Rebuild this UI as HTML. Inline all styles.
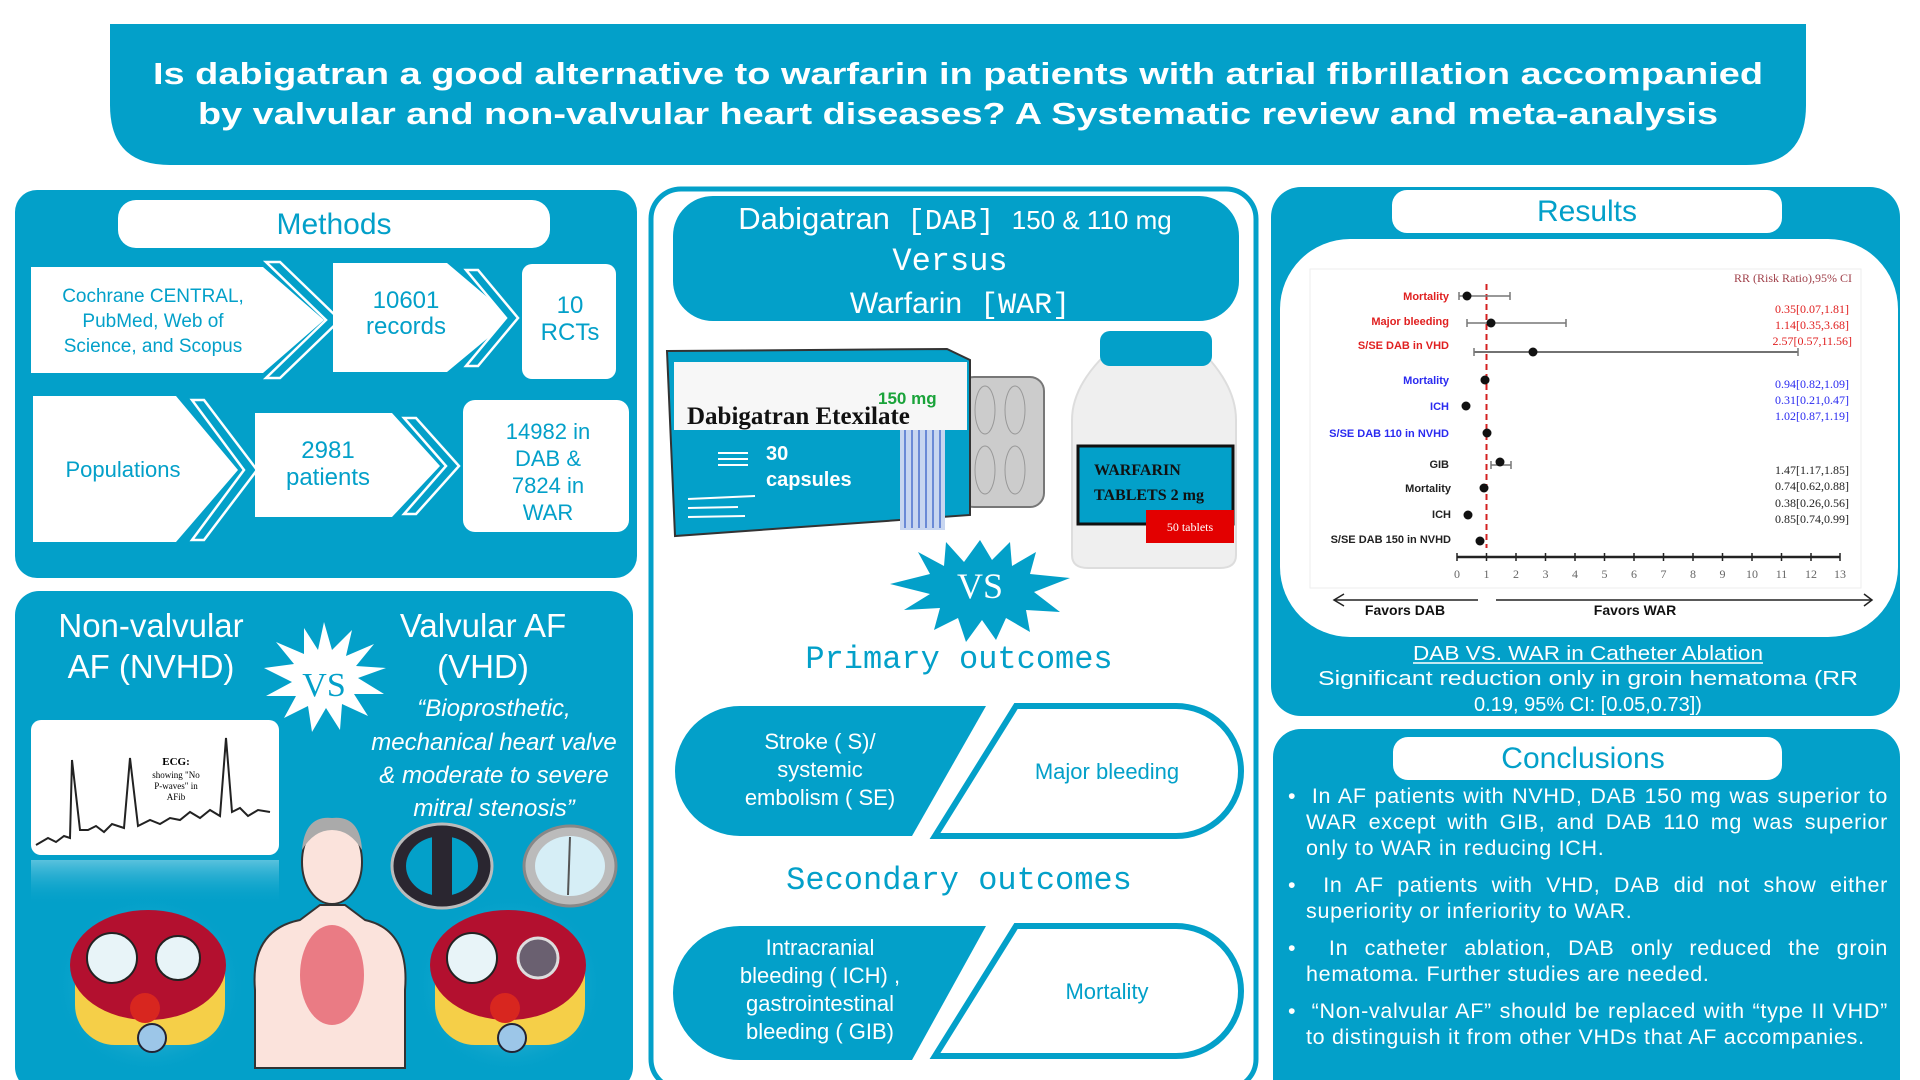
<!DOCTYPE html>
<html><head><meta charset="utf-8"><style>
html,body{margin:0;padding:0;background:#fff;}
#wrap{position:relative;width:1920px;height:1080px;overflow:hidden;font-family:"Liberation Sans",sans-serif;}
svg{position:absolute;left:0;top:0;}
.concl{position:absolute;left:1288px;top:783px;width:600px;color:#fff;font-size:21.5px;line-height:26px;letter-spacing:0.7px;}
.concl p{margin:0 0 11px 0;text-align:justify;padding-left:18px;text-indent:-18px;}
</style></head><body><div id="wrap">
<svg width="1920" height="1080" viewBox="0 0 1920 1080" font-family="Liberation Sans, sans-serif">
<defs>
<radialGradient id="glow" cx="50%" cy="50%" r="50%"><stop offset="0" stop-color="#bfeaf5"/><stop offset="1" stop-color="#03a0c9" stop-opacity="0"/></radialGradient>
<linearGradient id="refl" x1="0" y1="0" x2="0" y2="1"><stop offset="0" stop-color="#7fd0e6" stop-opacity="0.7"/><stop offset="1" stop-color="#03a0c9" stop-opacity="0"/></linearGradient>
</defs>
<!-- Title -->
<path d="M110,24 H1806 V105 Q1806,165 1746,165 H170 Q110,165 110,105 Z" fill="#03a0c9"/>
<text x="958" y="84" text-anchor="middle" fill="#fff" font-size="31" font-weight="bold" textLength="1610" lengthAdjust="spacingAndGlyphs">Is dabigatran a good alternative to warfarin in patients with atrial fibrillation accompanied</text>
<text x="958" y="124" text-anchor="middle" fill="#fff" font-size="31" font-weight="bold" textLength="1520" lengthAdjust="spacingAndGlyphs">by valvular and non-valvular heart diseases?  A Systematic review and meta-analysis</text>

<!-- Methods panel -->
<rect x="15" y="190" width="622" height="388" rx="22" fill="#03a0c9"/>
<rect x="118" y="200" width="432" height="48" rx="18" fill="#fff"/>
<text x="334" y="234" text-anchor="middle" fill="#03a0c9" font-size="30">Methods</text>
<polygon points="31,267 263,267 324,320 263,373 31,373" fill="#fff"/>
<polygon points="266,262 280,262 340,320 280,378 266,378 326,320" fill="#03a0c9" stroke="#fff" stroke-width="2.5"/>
<polygon points="333,263 447,263 512,318 447,372 333,372" fill="#fff"/>
<polygon points="466,270 478,270 518,318 478,366 466,366 506,318" fill="#03a0c9" stroke="#fff" stroke-width="2.5"/>
<rect x="522" y="264" width="94" height="115" rx="10" fill="#fff"/>
<polygon points="33,396 176,396 238,470 176,542 33,542" fill="#fff"/>
<polygon points="192,400 204,400 257,470 204,540 192,540 244,470" fill="#03a0c9" stroke="#fff" stroke-width="2.5"/>
<polygon points="255,413 392,413 440,466 392,517 255,517" fill="#fff"/>
<polygon points="404,418 416,418 459,466 416,514 404,514 446,466" fill="#03a0c9" stroke="#fff" stroke-width="2.5"/>
<rect x="463" y="400" width="166" height="132" rx="12" fill="#fff"/>
<g fill="#03a0c9" font-size="19" text-anchor="middle">
<text x="153" y="302">Cochrane CENTRAL,</text>
<text x="153" y="327">PubMed, Web of</text>
<text x="153" y="352">Science, and Scopus</text>
<text x="406" y="308" font-size="24">10601</text>
<text x="406" y="334" font-size="24">records</text>
<text x="570" y="313" font-size="24">10</text>
<text x="570" y="340" font-size="24">RCTs</text>
<text x="123" y="477" font-size="22">Populations</text>
<text x="328" y="458" font-size="24">2981</text>
<text x="328" y="485" font-size="24">patients</text>
<text x="548" y="439" font-size="22">14982 in</text>
<text x="548" y="466" font-size="22">DAB &amp;</text>
<text x="548" y="493" font-size="22">7824 in</text>
<text x="548" y="520" font-size="22">WAR</text>
</g>

<!-- Bottom-left panel -->
<rect x="15" y="591" width="618" height="500" rx="24" fill="#03a0c9"/>
<g fill="#fff" font-size="33" text-anchor="middle">
<text x="151" y="637">Non-valvular</text>
<text x="151" y="678">AF (NVHD)</text>
<text x="483" y="637">Valvular AF</text>
<text x="483" y="678">(VHD)</text>
</g>
<polygon fill="#fff" points="324,622 332,650 352,630 346,656 374,644 356,666 386,668 358,678 384,694 354,694 368,716 342,704 340,730 326,708 312,732 308,706 284,718 296,696 266,696 292,682 264,668 294,664 276,642 304,654 304,628 318,650" />
<text x="324" y="696" text-anchor="middle" fill="#03a0c9" font-size="34" font-family="Liberation Serif, serif">VS</text>
<g fill="#fff" font-size="24" font-style="italic" text-anchor="middle">
<text x="494" y="716">“Bioprosthetic,</text>
<text x="494" y="750">mechanical heart valve</text>
<text x="494" y="783">&amp; moderate to severe</text>
<text x="494" y="816">mitral stenosis”</text>
</g>
<rect x="31" y="720" width="248" height="135" rx="10" fill="#fff"/>
<polyline fill="none" stroke="#222" stroke-width="2" points="36,845 48,838 56,842 64,836 70,838 72,760 80,830 88,830 96,826 104,832 112,824 124,828 130,758 138,826 150,820 160,824 170,818 180,820 190,812 200,818 210,810 220,816 226,738 232,812 240,808 248,816 258,810 270,812"/>
<text x="176" y="765" text-anchor="middle" font-size="11" font-weight="bold" font-family="Liberation Serif, serif">ECG:</text>
<text x="176" y="778" text-anchor="middle" font-size="9" font-family="Liberation Serif, serif">showing "No</text>
<text x="176" y="789" text-anchor="middle" font-size="9" font-family="Liberation Serif, serif">P-waves" in</text>
<text x="176" y="800" text-anchor="middle" font-size="9" font-family="Liberation Serif, serif">AFib</text>
<rect x="31" y="860" width="248" height="45" fill="url(#refl)"/>
<!-- hearts -->
<g>
<ellipse cx="150" cy="985" rx="95" ry="90" fill="url(#glow)"/>
<rect x="75" y="935" width="150" height="110" rx="40" fill="#f5cf48"/>
<ellipse cx="148" cy="965" rx="78" ry="55" fill="#b3102f"/>
<circle cx="112" cy="958" r="25" fill="#e8f4f8" stroke="#222" stroke-width="2"/>
<circle cx="178" cy="958" r="22" fill="#e8f4f8" stroke="#222" stroke-width="2"/>
<circle cx="145" cy="1008" r="15" fill="#d8261f"/>
<circle cx="152" cy="1038" r="14" fill="#9cc6e8" stroke="#223" stroke-width="2"/>
</g>
<g>
<ellipse cx="510" cy="985" rx="95" ry="90" fill="url(#glow)"/>
<rect x="435" y="935" width="150" height="110" rx="40" fill="#f5cf48"/>
<ellipse cx="508" cy="965" rx="78" ry="55" fill="#b3102f"/>
<circle cx="472" cy="958" r="25" fill="#e8f4f8" stroke="#222" stroke-width="2"/>
<circle cx="538" cy="958" r="20" fill="#6a6070" stroke="#ddd" stroke-width="3"/>
<circle cx="505" cy="1008" r="15" fill="#d8261f"/>
<circle cx="512" cy="1038" r="14" fill="#9cc6e8" stroke="#223" stroke-width="2"/>
</g>
<!-- person -->
<path d="M255,1068 L255,990 Q250,930 300,920 L320,905 L345,905 L365,920 Q410,930 405,990 L405,1068 Z" fill="#fbe3dc" stroke="#333" stroke-width="2"/>
<ellipse cx="332" cy="862" rx="30" ry="42" fill="#fbe3dc" stroke="#333" stroke-width="2"/>
<path d="M302,850 Q305,815 332,818 Q360,815 362,850 Q350,830 332,830 Q314,830 302,850Z" fill="#aaa"/>
<ellipse cx="332" cy="975" rx="32" ry="50" fill="#e0354a" opacity="0.6"/>
<!-- valves -->
<ellipse cx="442" cy="866" rx="50" ry="42" fill="#2a2630" stroke="#bbb" stroke-width="3"/>
<ellipse cx="442" cy="866" rx="36" ry="30" fill="#03a0c9"/>
<rect x="432" y="836" width="20" height="60" fill="#2a2630"/>
<ellipse cx="570" cy="866" rx="46" ry="40" fill="#bbb" stroke="#888" stroke-width="3"/>
<ellipse cx="570" cy="866" rx="35" ry="30" fill="#d6eef6"/>
<line x1="570" y1="837" x2="568" y2="895" stroke="#555" stroke-width="2"/>

<!-- Center panel -->
<rect x="651" y="189" width="605" height="900" rx="30" fill="#fff" stroke="#03a0c9" stroke-width="5"/>
<rect x="673" y="196" width="566" height="125" rx="40" fill="#03a0c9"/>
<g fill="#fff" text-anchor="middle">
<text x="955" y="229" font-size="30"><tspan font-size="31">Dabigatran</tspan><tspan font-family="Liberation Mono, monospace" font-size="29"> [DAB] </tspan><tspan font-size="26">150 &amp; 110 mg</tspan></text>
<text x="950" y="270" font-size="32" font-family="Liberation Mono, monospace">Versus</text>
<text x="960" y="313" font-size="30">Warfarin<tspan font-family="Liberation Mono, monospace"> [WAR]</tspan></text>
</g>
<!-- blister -->
<rect x="960" y="377" width="84" height="130" rx="14" fill="#ccc" stroke="#777" stroke-width="2"/>
<g fill="none" stroke="#999"><ellipse cx="985" cy="410" rx="10" ry="24"/><ellipse cx="1015" cy="410" rx="10" ry="24"/><ellipse cx="985" cy="470" rx="10" ry="24"/><ellipse cx="1015" cy="470" rx="10" ry="24"/></g>
<!-- box -->
<polygon points="667,351 947,349 970,360 970,515 675,536" fill="#03a0c9" stroke="#333" stroke-width="2"/>
<polygon points="674,362 967,362 967,430 674,430" fill="#f7f7f7"/>
<rect x="900" y="430" width="45" height="100" fill="#c8d6f0"/>
<g stroke="#6b8ad6" stroke-width="2"><line x1="905" y1="430" x2="905" y2="528"/><line x1="912" y1="430" x2="912" y2="528"/><line x1="919" y1="430" x2="919" y2="528"/><line x1="926" y1="430" x2="926" y2="528"/><line x1="933" y1="430" x2="933" y2="528"/><line x1="940" y1="430" x2="940" y2="528"/></g>
<g stroke="#fff" stroke-width="2"><line x1="718" y1="453" x2="748" y2="453"/><line x1="718" y1="459" x2="748" y2="459"/><line x1="718" y1="465" x2="748" y2="465"/><line x1="688" y1="499" x2="755" y2="496"/><line x1="688" y1="508" x2="738" y2="507"/><line x1="688" y1="517" x2="745" y2="516"/></g>
<text x="687" y="424" font-size="25" font-weight="bold" font-family="Liberation Serif, serif" fill="#111">Dabigatran Etexilate</text>
<text x="878" y="404" font-size="17" font-weight="bold" fill="#1aa33a">150 mg</text>
<text x="766" y="460" font-size="20" font-weight="bold" fill="#fff">30</text>
<text x="766" y="486" font-size="20" font-weight="bold" fill="#fff">capsules</text>
<!-- bottle -->
<path d="M1100,360 H1210 Q1236,390 1236,420 V555 Q1236,568 1220,568 H1088 Q1072,568 1072,555 V420 Q1072,390 1100,360Z" fill="#efefef" stroke="#ddd" stroke-width="2"/>
<rect x="1100" y="331" width="112" height="35" rx="10" fill="#03a0c9"/>
<rect x="1078" y="446" width="155" height="78" fill="#03a0c9" stroke="#111" stroke-width="3"/>
<rect x="1146" y="510" width="88" height="33" fill="#e30000"/>
<text x="1094" y="475" font-size="16" font-weight="bold" font-family="Liberation Serif, serif" fill="#111">WARFARIN</text>
<text x="1094" y="500" font-size="16" font-weight="bold" font-family="Liberation Serif, serif" fill="#111">TABLETS 2 mg</text>
<text x="1190" y="531" text-anchor="middle" font-size="12" font-family="Liberation Serif, serif" fill="#fff">50 tablets</text>
<!-- VS starburst blue -->
<polygon fill="#03a0c9" points="980,540 992,560 1010,542 1012,566 1036,552 1030,574 1070,578 1034,592 1060,612 1026,610 1030,632 1006,618 996,640 982,620 966,642 958,618 934,630 940,608 904,610 930,594 890,584 930,574 918,552 944,566 946,542 964,562"/>
<text x="980" y="598" text-anchor="middle" font-size="36" fill="#fff" font-family="Liberation Serif, serif">VS</text>
<g fill="#03a0c9" font-family="Liberation Mono, monospace" font-size="32" text-anchor="middle">
<text x="959" y="668">Primary outcomes</text>
<text x="959" y="889">Secondary outcomes</text>
</g>
<!-- pills -->
<path d="M740,706 H986 L912,836 H740 A65,65 0 0 1 740,706Z" fill="#03a0c9"/>
<path d="M1016,706 H1176 A63,63 0 0 1 1176,836 H935 Z" fill="#fff" stroke="#03a0c9" stroke-width="6"/>
<path d="M740,926 H986 L912,1060 H740 A67,67 0 0 1 740,926Z" fill="#03a0c9"/>
<path d="M1016,926 H1176 A65,65 0 0 1 1176,1056 H935 Z" fill="#fff" stroke="#03a0c9" stroke-width="6"/>
<g fill="#fff" font-size="22" text-anchor="middle">
<text x="820" y="749">Stroke ( S)/</text>
<text x="820" y="777">systemic</text>
<text x="820" y="805">embolism ( SE)</text>
<text x="820" y="955">Intracranial</text>
<text x="820" y="983">bleeding ( ICH) ,</text>
<text x="820" y="1011">gastrointestinal</text>
<text x="820" y="1039">bleeding  ( GIB)</text>
</g>
<text x="1107" y="779" text-anchor="middle" fill="#03a0c9" font-size="22">Major bleeding</text>
<text x="1107" y="999" text-anchor="middle" fill="#03a0c9" font-size="22">Mortality</text>

<!-- Results panel -->
<rect x="1271" y="187" width="629" height="529" rx="30" fill="#03a0c9"/>
<rect x="1392" y="190" width="390" height="43" rx="15" fill="#fff"/>
<text x="1587" y="221" text-anchor="middle" fill="#03a0c9" font-size="30">Results</text>
<rect x="1280" y="239" width="618" height="398" rx="70" fill="#fff"/>
<rect x="1310" y="269" width="551" height="319" fill="#fff" stroke="#eee"/>
<text x="1852" y="282" text-anchor="end" font-size="12" fill="#a0404a" font-family="Liberation Serif, serif">RR (Risk Ratio),95% CI</text>
<line x1="1486.5" y1="284" x2="1486.5" y2="548" stroke="#d42020" stroke-width="2" stroke-dasharray="6,4"/>
<line x1="1457" y1="557" x2="1840" y2="557" stroke="#222" stroke-width="2.5"/>
<g stroke="#222" stroke-width="1.5">
<line x1="1457" y1="553" x2="1457" y2="561"/><line x1="1486.5" y1="553" x2="1486.5" y2="561"/><line x1="1516" y1="553" x2="1516" y2="561"/><line x1="1545.5" y1="553" x2="1545.5" y2="561"/><line x1="1575" y1="553" x2="1575" y2="561"/><line x1="1604.5" y1="553" x2="1604.5" y2="561"/><line x1="1634" y1="553" x2="1634" y2="561"/><line x1="1663.5" y1="553" x2="1663.5" y2="561"/><line x1="1693" y1="553" x2="1693" y2="561"/><line x1="1722.5" y1="553" x2="1722.5" y2="561"/><line x1="1752" y1="553" x2="1752" y2="561"/><line x1="1781.5" y1="553" x2="1781.5" y2="561"/><line x1="1811" y1="553" x2="1811" y2="561"/><line x1="1840" y1="553" x2="1840" y2="561"/>
</g>
<g font-size="12" fill="#666" text-anchor="middle" font-family="Liberation Serif, serif">
<text x="1457" y="578">0</text><text x="1486.5" y="578">1</text><text x="1516" y="578">2</text><text x="1545.5" y="578">3</text><text x="1575" y="578">4</text><text x="1604.5" y="578">5</text><text x="1634" y="578">6</text><text x="1663.5" y="578">7</text><text x="1693" y="578">8</text><text x="1722.5" y="578">9</text><text x="1752" y="578">10</text><text x="1781.5" y="578">11</text><text x="1811" y="578">12</text><text x="1840" y="578">13</text>
</g>
<g stroke="#777" stroke-width="1.5">
<line x1="1459" y1="296" x2="1510" y2="296"/><line x1="1459" y1="292" x2="1459" y2="300"/><line x1="1510" y1="292" x2="1510" y2="300"/>
<line x1="1467" y1="323" x2="1566" y2="323"/><line x1="1467" y1="319" x2="1467" y2="327"/><line x1="1566" y1="319" x2="1566" y2="327"/>
<line x1="1474" y1="352" x2="1798" y2="352" stroke="#444"/><line x1="1474" y1="348" x2="1474" y2="356"/><line x1="1798" y1="348" x2="1798" y2="356"/>
<line x1="1491" y1="465" x2="1511" y2="465"/><line x1="1491" y1="461" x2="1491" y2="469"/><line x1="1511" y1="461" x2="1511" y2="469"/>
</g>
<g fill="#111">
<circle cx="1467" cy="296" r="4.5"/><circle cx="1491" cy="323" r="4.5"/><circle cx="1533" cy="352" r="4.5"/>
<circle cx="1485" cy="380" r="4.5"/><circle cx="1466" cy="406" r="4.5"/><circle cx="1487" cy="433" r="4.5"/>
<circle cx="1500" cy="462" r="4.5"/><circle cx="1484" cy="488" r="4.5"/><circle cx="1468" cy="515" r="4.5"/><circle cx="1480" cy="541" r="4.5"/>
</g>
<g font-size="11" text-anchor="end" font-weight="bold">
<text x="1449" y="300" fill="#e02020">Mortality</text>
<text x="1449" y="325" fill="#e02020">Major bleeding</text>
<text x="1449" y="349" fill="#e02020">S/SE DAB in VHD</text>
<text x="1449" y="384" fill="#2a2af0">Mortality</text>
<text x="1449" y="410" fill="#2a2af0">ICH</text>
<text x="1449" y="437" fill="#2a2af0">S/SE DAB 110 in NVHD</text>
<text x="1449" y="468" fill="#222">GIB</text>
<text x="1451" y="492" fill="#222">Mortality</text>
<text x="1451" y="518" fill="#222">ICH</text>
<text x="1451" y="543" fill="#222">S/SE DAB 150 in NVHD</text>
</g>
<g font-size="12" text-anchor="end" font-family="Liberation Serif, serif">
<text x="1849" y="313" fill="#e02020">0.35[0.07,1.81]</text>
<text x="1849" y="329" fill="#e02020">1.14[0.35,3.68]</text>
<text x="1852" y="345" fill="#e02020">2.57[0.57,11.56]</text>
<text x="1849" y="388" fill="#2a2af0">0.94[0.82,1.09]</text>
<text x="1849" y="404" fill="#2a2af0">0.31[0.21,0.47]</text>
<text x="1849" y="420" fill="#2a2af0">1.02[0.87,1.19]</text>
<text x="1849" y="474" fill="#222">1.47[1.17,1.85]</text>
<text x="1849" y="490" fill="#222">0.74[0.62,0.88]</text>
<text x="1849" y="507" fill="#222">0.38[0.26,0.56]</text>
<text x="1849" y="523" fill="#222">0.85[0.74,0.99]</text>
</g>
<g stroke="#222" stroke-width="1.5" fill="none">
<line x1="1334" y1="600" x2="1478" y2="600"/><polyline points="1344,594 1334,600 1344,606"/>
<line x1="1496" y1="600" x2="1872" y2="600"/><polyline points="1864,594 1872,600 1864,606"/>
</g>
<text x="1405" y="615" text-anchor="middle" font-size="14" font-weight="bold" fill="#111">Favors DAB</text>
<text x="1635" y="615" text-anchor="middle" font-size="14" font-weight="bold" fill="#111">Favors WAR</text>
<text x="1588" y="660" text-anchor="middle" font-size="20" fill="#fff" textLength="350" lengthAdjust="spacingAndGlyphs">DAB VS. WAR in Catheter Ablation</text>
<line x1="1413" y1="663" x2="1763" y2="663" stroke="#fff" stroke-width="1.5"/>
<text x="1588" y="685" text-anchor="middle" font-size="20" fill="#fff" textLength="540" lengthAdjust="spacingAndGlyphs">Significant reduction only in groin hematoma (RR</text>
<text x="1588" y="711" text-anchor="middle" font-size="20" fill="#fff">0.19, 95% CI: [0.05,0.73])</text>

<!-- Conclusions -->
<rect x="1273" y="729" width="627" height="380" rx="28" fill="#03a0c9"/>
<rect x="1393" y="737" width="389" height="43" rx="15" fill="#fff"/>
<text x="1583" y="768" text-anchor="middle" fill="#03a0c9" font-size="30">Conclusions</text>
</svg>
<div class="concl">
<p>•&nbsp;&nbsp;In AF patients with NVHD, DAB 150 mg was superior to WAR except with GIB, and DAB 110 mg was superior only to WAR in reducing ICH.</p>
<p>•&nbsp;&nbsp;In AF patients with VHD, DAB did not show either superiority or inferiority to WAR.</p>
<p>•&nbsp;&nbsp;In catheter ablation, DAB only reduced the groin hematoma. Further studies are needed.</p>
<p>•&nbsp;&nbsp;“Non-valvular AF” should be replaced with “type II VHD” to distinguish it from other VHDs that AF accompanies.</p>
</div>
</div></body></html>
